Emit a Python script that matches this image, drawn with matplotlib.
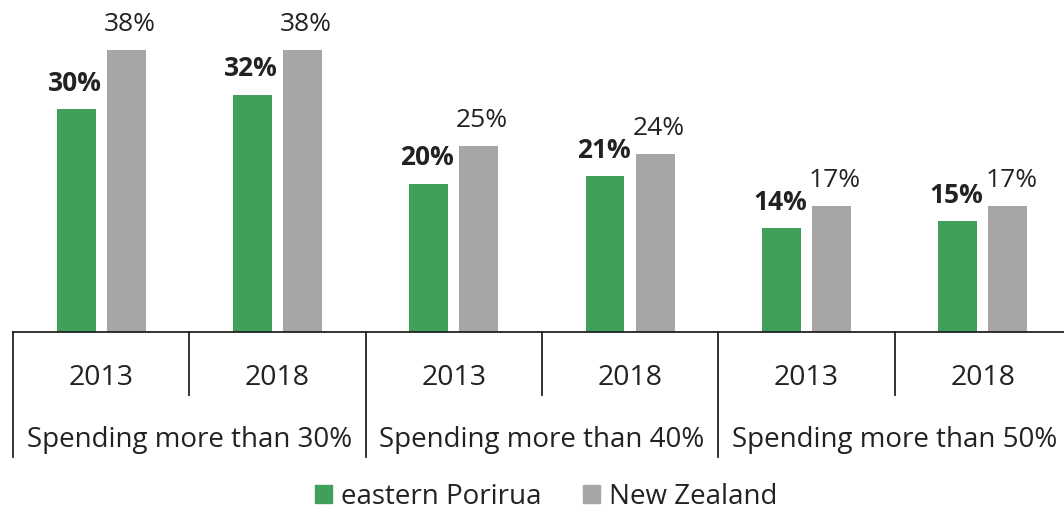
import matplotlib.pyplot as plt
import matplotlib.transforms as mtransforms
from matplotlib.patches import Patch
import numpy as np

plt.rcParams['font.family'] = ['Open Sans', 'DejaVu Sans']

periods = ['2013', '2018', '2013', '2018', '2013', '2018']
groups = ['Spending more than 30%', 'Spending more than 40%', 'Spending more than 50%']
porirua = [30, 32, 20, 21, 14, 15]
nz = [38, 38, 25, 24, 17, 17]

green = '#40A05A'
grey = '#A6A6A6'
ink = '#222222'

W, H = 1064, 511
fig = plt.figure(figsize=(W / 100, H / 100), dpi=100)
# plot area: baseline at y=332px, each category ~176px wide
ax = fig.add_axes([13 / W, (H - 332) / H, 6 * 176.3 / W, 332 / H])

x = np.arange(len(periods))
bw = 0.221
off = 0.142
ax.bar(x - off, porirua, bw, color=green, zorder=2)
ax.bar(x + off, nz, bw, color=grey, zorder=2)

ax.set_xlim(-0.5, len(periods) - 0.5)
ax.set_ylim(0, 332 / 7.42)

for xi, v in zip(x, porirua):
    ax.annotate(f'{v}%', (xi - off, v), xytext=(-1, 18.5), textcoords='offset points',
                ha='center', va='center', fontsize=19, fontweight='bold', color=ink)
for xi, v in zip(x, nz):
    ax.annotate(f'{v}%', (xi + off, v), xytext=(2.5, 18.5), textcoords='offset points',
                ha='center', va='center', fontsize=19, color=ink)

for s in ['top', 'right', 'left']:
    ax.spines[s].set_visible(False)
ax.spines['bottom'].set_color(ink)
ax.spines['bottom'].set_linewidth(1.3)
ax.set_xticks([])
ax.set_yticks([])

# two-level category axis below the baseline
tr = mtransforms.blended_transform_factory(ax.transData, ax.transAxes)
ah = 332.0


def ay(py):
    return -(py - 332) / ah


for b in range(len(periods) + 1):
    bx = b - 0.5
    bottom = 457 if b % 2 == 0 else 395
    ax.plot([bx, bx], [0, ay(bottom)], transform=tr, color=ink, lw=1.3, clip_on=False)

for xi, p in zip(x, periods):
    ax.text(xi, ay(378), p, transform=tr, ha='center', va='center', fontsize=20.5, color=ink)
for gi, g in enumerate(groups):
    ax.text(2 * gi + 0.5, ay(440), g, transform=tr, ha='center', va='center',
            fontsize=20, color=ink)

handles = [Patch(color=green, label='eastern Porirua'), Patch(color=grey, label='New Zealand')]
fig.legend(handles=handles, loc='center', bbox_to_anchor=(546 / W, (H - 497) / H), ncol=2,
           frameon=False, fontsize=20, handlelength=0.6, handleheight=0.6,
           handletextpad=0.33, columnspacing=1.5, labelcolor=ink)

fig.savefig('out.png', dpi=100)
